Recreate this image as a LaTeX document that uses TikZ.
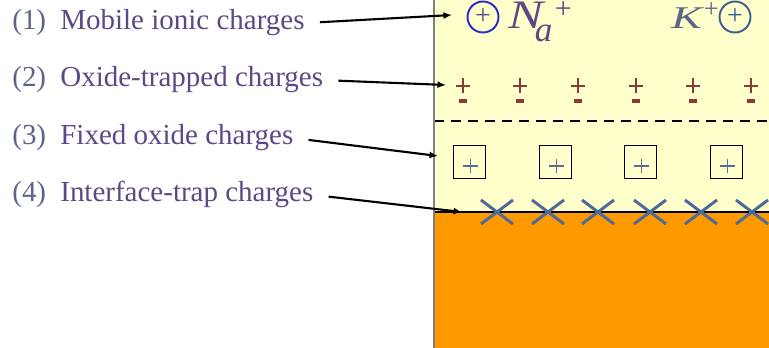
\documentclass[tikz,border=0pt]{standalone}
\usepackage{fontspec}
\setmainfont{Liberation Serif}
\usepackage{tikz}
\usetikzlibrary{arrows.meta,calc}
\definecolor{oxfill}{HTML}{FFFFCC}
\definecolor{siorange}{HTML}{FF9900}
\definecolor{edgegrey}{HTML}{7F7F7F}
\definecolor{lblpurple}{HTML}{5E4785}
\definecolor{numslate}{HTML}{5C6488}
\definecolor{nablue}{HTML}{2A2ACC}
\definecolor{kblue}{HTML}{3E5F8F}
\definecolor{trapred}{HTML}{8B3A3A}
\definecolor{xblue}{HTML}{4D6A9A}
\definecolor{boxplus}{HTML}{5A6A9A}
\tikzset{
  numlbl/.style={anchor=base west,inner sep=0pt,text=numslate,font=\fontsize{16.5}{20}\selectfont},
  lbl/.style={anchor=base west,inner sep=0pt,text=lblpurple,font=\fontsize{16.5}{20}\selectfont},
  callout/.style={-{Latex[length=0.17cm,width=0.14cm]},line width=1.2pt,shorten <=0.3cm},
  ion/.style={circle,draw=#1,line width=1.1pt,minimum size=0.62cm,inner sep=0pt,
              font=\fontsize{16}{16}\selectfont},
  species/.style={anchor=base west,inner sep=0pt},
  fixbox/.style={draw=black,line width=0.5pt},
  trapx/.style={xblue,line width=1.7pt},
}

\begin{document}
\begin{tikzpicture}[x=0.02cm,y=-0.02cm]
  \useasboundingbox (0,0) rectangle (769,348);
  % ---------- oxide and silicon ----------
  \fill[oxfill] (434,0) rectangle (769,212);
  \fill[siorange] (434,212) rectangle (769,348);
  \draw[black,line width=0.6pt] (434,212)--(769,212);
  \draw[black,line width=1.6pt,dash pattern=on 0.2cm off 0.14cm] (434,121)--(769,121);
  \draw[edgegrey,line width=0.9pt] (434,0)--(434,348);
  % ---------- mobile ions ----------
  \node[ion=nablue,text=lblpurple] (naion) at (483,17){+};
  \node[species,text=lblpurple,font=\fontsize{23}{23}\selectfont] (naname) at (508,29)
        {\scalebox{1.3}[1]{\textit{N}}\kern-0.22cm\raisebox{-0.26cm}{\fontsize{20}{20}\selectfont\textit{a}}%
         \kern0.05cm\raisebox{0.22cm}{\fontsize{17}{17}\selectfont +}};
  \node[species,text=numslate,font=\fontsize{18}{18}\selectfont] (kname) at (671,29)
        {\scalebox{1.45}[1]{\textit{K}}\raisebox{0.24cm}{\fontsize{15}{15}\selectfont +}};
  \node[ion=kblue,text=kblue] (kion) at (735,17){+};
  % ---------- oxide-trapped charges ----------
  \foreach \tx in {463,520,578,636,693,751}{
     \draw[trapred,line width=1.2pt] (\tx-7,86)--(\tx+7,86) (\tx,78)--(\tx,93);
     \draw[trapred,line width=1.8pt] (\tx-4,101)--(\tx+4,101);}
  % ---------- fixed oxide charges ----------
  \foreach \bx in {469,555,640,726}{
     \draw[fixbox] (\bx-16,145) rectangle (\bx+16,178);
     \draw[boxplus,line width=0.7pt] (\bx-6,166)--(\bx+9,166) (\bx+1.5,159)--(\bx+1.5,173);}
  % ---------- interface traps ----------
  \foreach \cx in {497,548,598,650,701,752}{
     \draw[trapx] (\cx-16,200)--(\cx+16,224) (\cx-16,224)--(\cx+16,200);}
  % ---------- labels ----------
  \foreach \li/\yy/\txt in {1/30/Mobile ionic charges,2/87/Oxide-trapped charges,
                            3/145/Fixed oxide charges,4/202/Interface-trap charges}{
     \node[numlbl] (num\li) at (12,\yy){(\li)};
     \node[lbl] (lab\li) at (60,\yy){\txt};}
  \coordinate (tip1) at (452,15);
  \coordinate (tip2) at (446,85);
  \coordinate (tip3) at (438,156);
  \coordinate (tip4) at (462,212);
  \foreach \li in {1,2,3,4}{\draw[callout] (lab\li.east) -- (tip\li);}
\end{tikzpicture}
\end{document}
